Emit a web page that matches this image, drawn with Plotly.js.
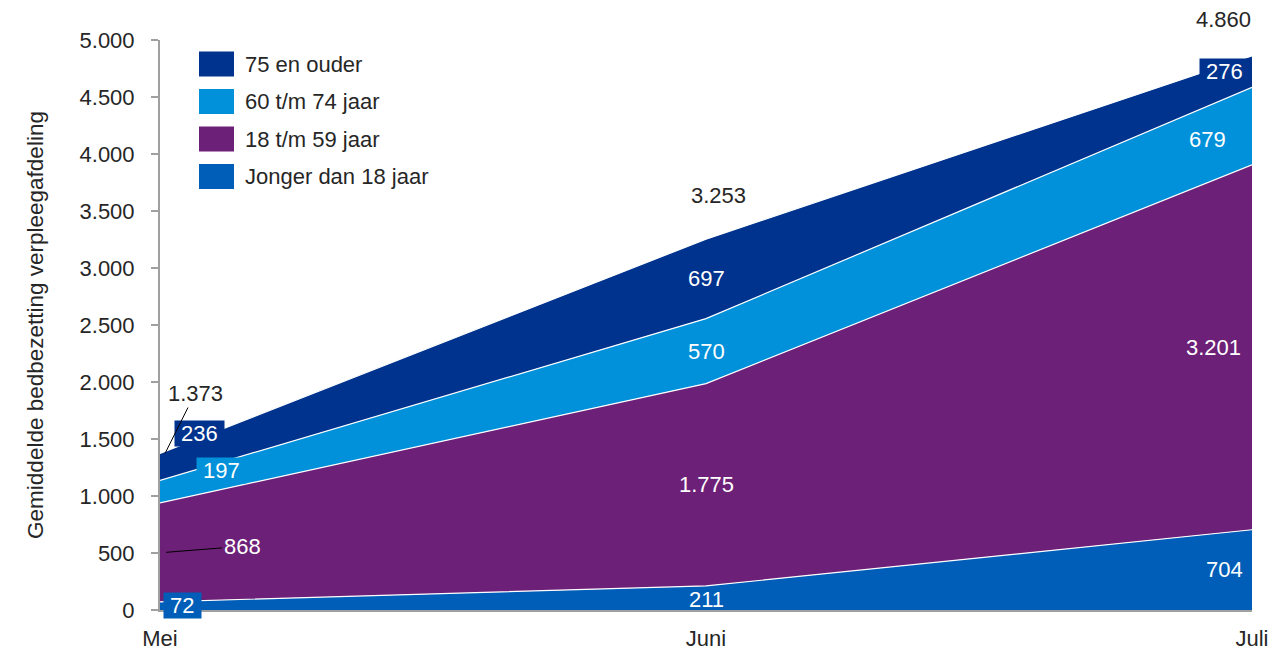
<!DOCTYPE html>
<html>
<head>
<meta charset="utf-8">
<script src="https://cdn.plot.ly/plotly-3.0.1.min.js"></script>
<style>html,body{margin:0;padding:0;background:#fff;}#chart{width:1273px;height:650px;}</style>
</head>
<body>
<div id="chart"></div>
<script>
// ---- data ----
const months = ['Mei', 'Juni', 'Juli'];
const seriesNames = ['Jonger dan 18 jaar', '18 t/m 59 jaar', '60 t/m 74 jaar', '75 en ouder'];
const jonger18 = [72, 211, 704];
const age18to59 = [868, 1775, 3201];
const age60to74 = [197, 570, 679];
const age75plus = [236, 697, 276];
const totals = [1373, 3253, 4860];
const yTickVals = [0, 500, 1000, 1500, 2000, 2500, 3000, 3500, 4000, 4500, 5000];

// ---- styles ----
const colors = ['#005EB8', '#6D2077', '#0091DA', '#00338D'];
const FONT = 'Liberation Sans, Arial, sans-serif';
const FS = 22;
const TXT = '#262626';
const series = [jonger18, age18to59, age60to74, age75plus];

function fmt(n) { return String(n).replace(/\B(?=(\d{3})+(?!\d))/g, '.'); }
const NB = '\u00a0';

const traces = series.map((vals, i) => ({
  type: 'scatter', mode: 'lines', x: months, y: vals, name: seriesNames[i],
  stackgroup: 'one', fillcolor: colors[i],
  line: {color: '#ffffff', width: 1.2}, showlegend: false, hoverinfo: 'skip'
}));

// cumulative bases
const base = series.map((vals, i) => vals.map((v, j) => {
  let s = 0; for (let k = 0; k < i; k++) s += series[k][j]; return s;
}));

// label placement per series / month
const place = {
  0: [ {xs: 22, ys: 0, xa: 'center', box: true}, {xs: 0, ys: -2, xa: 'center'}, {xs: -8, ys: 0, xa: 'right'} ],
  1: [ null, {xs: 0, ys: 0, xa: 'center'}, {xs: -10, ys: 0, xa: 'right'} ],
  2: [ {xs: 61, ys: 21, xa: 'center', box: true}, {xs: 0, ys: 0, xa: 'center'}, {xs: -25, ys: -13, xa: 'right'} ],
  3: [ {xs: 39, ys: -4, xa: 'center', box: true, top: true}, {xs: 0, ys: 0, xa: 'center'}, {xs: -2, ys: 0, xa: 'right', box: true} ]
};

const annotations = [];
series.forEach((vals, i) => {
  vals.forEach((v, j) => {
    const p = place[i][j];
    if (!p) return;
    const mid = base[i][j] + v / 2;
    let yv = mid;
    let ys = p.ys;
    if (p.top) { yv = base[i][j] + v; ys = 20; }
    annotations.push({
      x: months[j], y: yv, xref: 'x', yref: 'y',
      text: p.box ? NB + fmt(v) + NB : fmt(v),
      showarrow: false, xanchor: p.xa, yanchor: 'middle',
      xshift: p.xs, yshift: ys,
      font: {family: FONT, size: FS, color: '#ffffff'},
      bgcolor: p.box ? colors[i] : 'rgba(0,0,0,0)', borderpad: 0
    });
  });
});

// 868 with leader line
annotations.push({
  x: months[0], y: base[1][0] + age18to59[0] / 2, xref: 'x', yref: 'y',
  text: fmt(age18to59[0]), showarrow: true, arrowhead: 0, arrowwidth: 1, arrowcolor: '#000000',
  ax: 76, ay: -6, xshift: 6, standoff: 0,
  font: {family: FONT, size: FS, color: '#ffffff'}
});

// totals
const totalPlace = [
  {xs: 5, ys: 0, ax: 30, ay: -60, arrow: true},
  {xs: 12, ys: 44, xa: 'center'},
  {xs: 1, ys: 36, xa: 'right'}
];
totals.forEach((t, j) => {
  const p = totalPlace[j];
  if (p.arrow) {
    annotations.push({
      x: months[j], y: t, xref: 'x', yref: 'y', text: fmt(t),
      showarrow: true, arrowhead: 0, arrowwidth: 1, arrowcolor: '#000000',
      ax: p.ax, ay: p.ay, xshift: p.xs, standoff: 0,
      font: {family: FONT, size: FS, color: TXT}
    });
  } else {
    annotations.push({
      x: months[j], y: t, xref: 'x', yref: 'y', text: fmt(t), showarrow: false,
      xanchor: p.xa, yanchor: 'middle', xshift: p.xs, yshift: p.ys,
      font: {family: FONT, size: FS, color: TXT}
    });
  }
});

// manual legend (reversed order)
const shapes = [];
const legendOrder = [3, 2, 1, 0];
legendOrder.forEach((si, k) => {
  const cy = 64 + k * 37.5; // pixel center
  const y0 = 1 - (cy + 12.5 - 40) / 570, y1 = 1 - (cy - 12.5 - 40) / 570;
  const x0 = (199 - 160) / 1092, x1 = (234 - 160) / 1092;
  shapes.push({type: 'rect', xref: 'paper', yref: 'paper', x0: x0, x1: x1, y0: y0, y1: y1,
    fillcolor: colors[si], line: {width: 0}});
  annotations.push({
    xref: 'paper', yref: 'paper', x: (243 - 160) / 1092, y: 1 - (cy - 40) / 570,
    xanchor: 'left', yanchor: 'middle', showarrow: false, text: seriesNames[si],
    font: {family: FONT, size: FS, color: TXT}
  });
});

const layout = {
  width: 1273, height: 650,
  margin: {l: 160, r: 21, t: 40, b: 40},
  paper_bgcolor: '#ffffff', plot_bgcolor: '#ffffff',
  separators: ',.',
  showlegend: false,
  font: {family: FONT, size: FS, color: TXT},
  xaxis: {
    type: 'category', range: [0, 2], showgrid: false, zeroline: false,
    showline: true, linecolor: '#a0a0a0', linewidth: 2,
    ticks: '', ticklabelstandoff: 8, tickfont: {family: FONT, size: FS, color: TXT}
  },
  yaxis: {
    range: [0, 5000], tickvals: yTickVals, ticktext: yTickVals.map(fmt),
    showgrid: false, zeroline: false, showline: true, linecolor: '#a0a0a0', linewidth: 2,
    ticks: 'outside', ticklen: 7, tickcolor: '#a0a0a0', tickwidth: 1.5,
    ticklabelstandoff: 12,
    tickfont: {family: FONT, size: FS, color: TXT},
    title: {text: 'Gemiddelde bedbezetting verpleegafdeling', font: {family: FONT, size: 22.5, color: TXT}, standoff: 30}
  },
  annotations: annotations,
  shapes: shapes
};

Plotly.newPlot('chart', traces, layout, {displayModeBar: false, staticPlot: true});
</script>
</body>
</html>
